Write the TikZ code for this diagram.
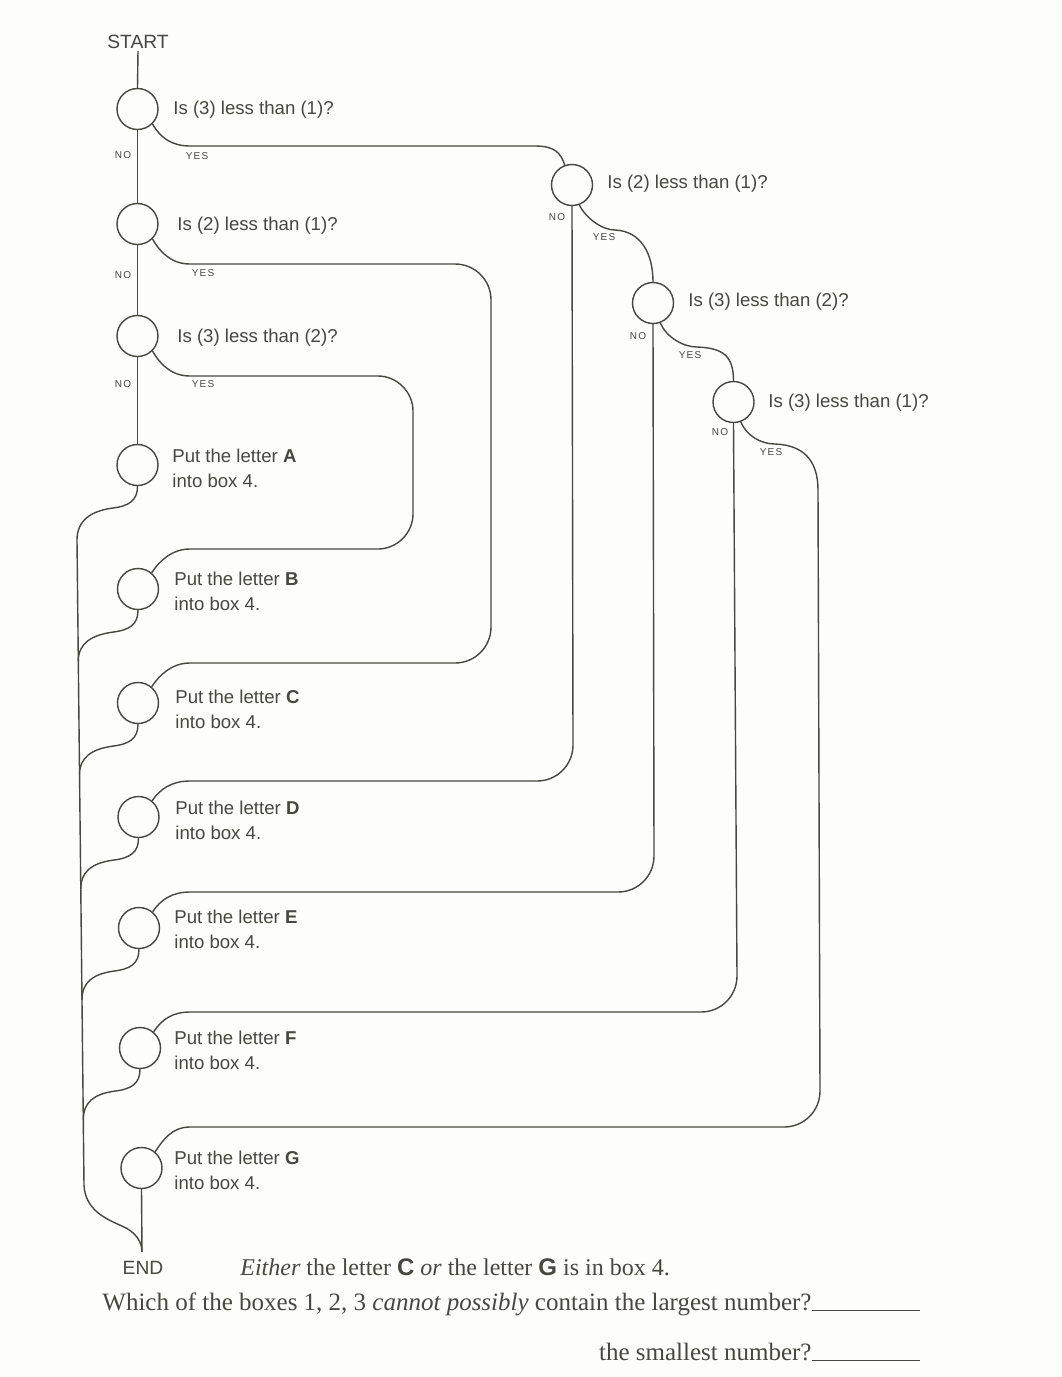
\documentclass[tikz,border=0pt]{standalone}
\usepackage{fontspec}
\setmainfont{Liberation Serif}
\setsansfont{Liberation Sans}
\newfontfamily\tagfont[LetterSpace=12]{Liberation Sans}
\usetikzlibrary{calc}
\definecolor{ink}{RGB}{72,72,64}
\definecolor{paper}{RGB}{253,253,249}

\begin{document}
\begin{tikzpicture}[x=0.5pt,y=-0.5pt,
  wire/.style={draw=ink,line width=0.7pt},
  ring/.style={circle,draw=ink,line width=0.7pt,minimum size=20.5pt,inner sep=0pt},
  ask/.style={anchor=west,text=ink,inner sep=0pt,font=\sffamily\fontsize{9.3}{12}\selectfont},
  put/.style={anchor=west,align=left,text=ink,inner sep=0pt,font=\sffamily\fontsize{9.3}{12.5}\selectfont},
  tag/.style={text=ink,inner sep=0pt,font=\tagfont\fontsize{5}{6}\selectfont},
  endlabel/.style={text=ink,inner sep=1pt,font=\sffamily\fontsize{9.6}{11}\selectfont},
  note/.style={anchor=west,text=ink,inner sep=0pt,font=\fontsize{12}{14}\selectfont},
  ask2/.style={note,font=\fontsize{12.5}{14}\selectfont}]
\fill[paper] (0,0) rectangle (1061,1377);

% questions, left column
\node[endlabel] (start) at (138,42) {START};
\node[ring] (q1) at (137.5,109) {};
\node[ring] (q2) at (137.5,224) {};
\node[ring] (q3) at (137.5,336) {};
\node[ask] (q1t) at (173,110) {Is (3) less than (1)?};
\node[ask] (q2t) at (177,226) {Is (2) less than (1)?};
\node[ask] (q3t) at (177,338) {Is (3) less than (2)?};

% questions, right column
\node[ring] (r2) at (572,185) {};
\node[ring] (r3) at (653,303) {};
\node[ring] (r4) at (733.5,402) {};
\node[ask] (r2t) at (607,184) {Is (2) less than (1)?};
\node[ask] (r3t) at (688,302) {Is (3) less than (2)?};
\node[ask] (r4t) at (768,403) {Is (3) less than (1)?};

% answers
\node[ring] (la) at (137.5,465) {};
\node[ring] (lb) at (138,589) {};
\node[ring] (lc) at (138,703) {};
\node[ring] (ld) at (138.5,817) {};
\node[ring] (le) at (139,928) {};
\node[ring] (lf) at (140,1048) {};
\node[ring] (lg) at (141.5,1168) {};
\node[put] (ta) at (172,468) {Put the letter \textbf{A}\\into box 4.};
\node[put] (tb) at (174,591) {Put the letter \textbf{B}\\into box 4.};
\node[put] (tc) at (175,709) {Put the letter \textbf{C}\\into box 4.};
\node[put] (td) at (175,820) {Put the letter \textbf{D}\\into box 4.};
\node[put] (te) at (174,929) {Put the letter \textbf{E}\\into box 4.};
\node[put] (tf) at (174,1050) {Put the letter \textbf{F}\\into box 4.};
\node[put] (tg) at (174,1170) {Put the letter \textbf{G}\\into box 4.};

\node[endlabel] (fin) at (143,1268) {END};
\coordinate (foot) at (142,1252);
\coordinate (mb) at (78.3,661);
\coordinate (mc) at (79.5,775);
\coordinate (md) at (80.8,889);
\coordinate (me) at (82,1000);
\coordinate (mf) at (83.3,1120);

% NO / YES
\node[tag] (n1) at (123,155) {NO};
\node[tag] (y1) at (197,156) {YES};
\node[tag] (n2) at (123,275) {NO};
\node[tag] (y2) at (203,273) {YES};
\node[tag] (n3) at (123,384) {NO};
\node[tag] (y3) at (203,384) {YES};
\node[tag] (n4) at (557,217) {NO};
\node[tag] (y4) at (604,237) {YES};
\node[tag] (n5) at (638,336) {NO};
\node[tag] (y5) at (690,355) {YES};
\node[tag] (n6) at (720,432) {NO};
\node[tag] (y6) at (771,452) {YES};

% the NO path
\draw[wire] (start.south) -- (q1.north);
\draw[wire] (q1.south) -- (q2.north);
\draw[wire] (q2.south) -- (q3.north);
\draw[wire] (q3.south) -- (la.north);

% YES from the left column
\draw[wire] (q1.-45) .. controls +(8,14) and +(-18,0) .. (190,146) -- (535,146)
  .. controls +(20,0) and +(-4,-12) .. (r2.110);
\draw[wire] (q2.-45) .. controls +(8,14) and +(-18,0) .. (190,264) -- (455,264)
  .. controls +(20,0) and +(0,-20) .. (491,300) -- (491,627)
  .. controls +(0,20) and +(20,0) .. (455,663) -- (190,663)
  .. controls +(-18,0) and +(8,-12) .. (lc.50);
\draw[wire] (q3.-45) .. controls +(8,14) and +(-18,0) .. (190,376) -- (378,376)
  .. controls +(19,0) and +(0,-19) .. (413,411) -- (413,514)
  .. controls +(0,19) and +(19,0) .. (378,549) -- (190,549)
  .. controls +(-18,0) and +(8,-12) .. (lb.50);

% right column
\draw[wire] (r2.-70) .. controls +(6,12) and +(-14,0) .. (615,230)
  .. controls +(26,1) and +(0,-28) .. (r3.north);
\draw[wire] (r3.-70) .. controls +(6,14) and +(-14,0) .. (697,347)
  .. controls +(26,1) and +(0,-25) .. (r4.north);
\draw[wire] (r2.south) -- (573,745) .. controls +(0,20) and +(20,0) .. (537,781)
  -- (190,781) .. controls +(-18,0) and +(8,-12) .. (ld.50);
\draw[wire] (r3.south) -- (654,856) .. controls +(0,20) and +(20,0) .. (618,892)
  -- (190,892) .. controls +(-18,0) and +(8,-12) .. (le.50);
\draw[wire] (r4.south) -- (737,976) .. controls +(0,20) and +(20,0) .. (701,1012)
  -- (190,1012) .. controls +(-18,0) and +(8,-12) .. (lf.50);
\draw[wire] (r4.-70) .. controls +(6,14) and +(-14,0) .. (775,444)
  .. controls +(28,1) and +(0,-30) .. (818,490) -- (820,1091)
  .. controls +(0,20) and +(20,0) .. (784,1127) -- (190,1127)
  .. controls +(-18,0) and +(8,-12) .. (lg.50);

% collecting line down to END
\draw[wire] (la.south) .. controls +(0,14) and +(18,-2) .. ($(la.south)+(-26,22)$)
  .. controls +(-20,3) and +(0,-20) .. (77,540) -- (84,1185)
  .. controls +(1,25) and +(-16,-7) .. (122,1226)
  .. controls +(14,6) and +(0,-10) .. (foot);
\draw[wire] (lb.south) .. controls +(0,14) and +(18,-2) .. ($(lb.south)+(-26,22)$)
  .. controls +(-20,3) and +(0,-18) .. (mb);
\draw[wire] (lc.south) .. controls +(0,14) and +(18,-2) .. ($(lc.south)+(-26,22)$)
  .. controls +(-20,3) and +(0,-18) .. (mc);
\draw[wire] (ld.south) .. controls +(0,14) and +(18,-2) .. ($(ld.south)+(-26,22)$)
  .. controls +(-20,3) and +(0,-18) .. (md);
\draw[wire] (le.south) .. controls +(0,14) and +(18,-2) .. ($(le.south)+(-26,22)$)
  .. controls +(-20,3) and +(0,-18) .. (me);
\draw[wire] (lf.south) .. controls +(0,14) and +(18,-2) .. ($(lf.south)+(-26,22)$)
  .. controls +(-20,3) and +(0,-18) .. (mf);
\draw[wire] (lg.south) -- (foot);

% the text below
\node[note] (either) at (240,1267) {\textit{Either} the letter {\sffamily\bfseries C} \textit{or} the letter {\sffamily\bfseries G} is in box 4.};
\node[ask2] (which) at (102,1304) {Which of the boxes 1, 2, 3 \textit{cannot possibly} contain the largest number?};
\node[ask2,anchor=base east] (least) at ($(which.base east)+(0,50)$) {the smallest number?};
\draw[ink,line width=0.6pt] (which.base east) -- ++(108,0);
\draw[ink,line width=0.6pt] (least.base east) -- ++(108,0);
\end{tikzpicture}
\end{document}
